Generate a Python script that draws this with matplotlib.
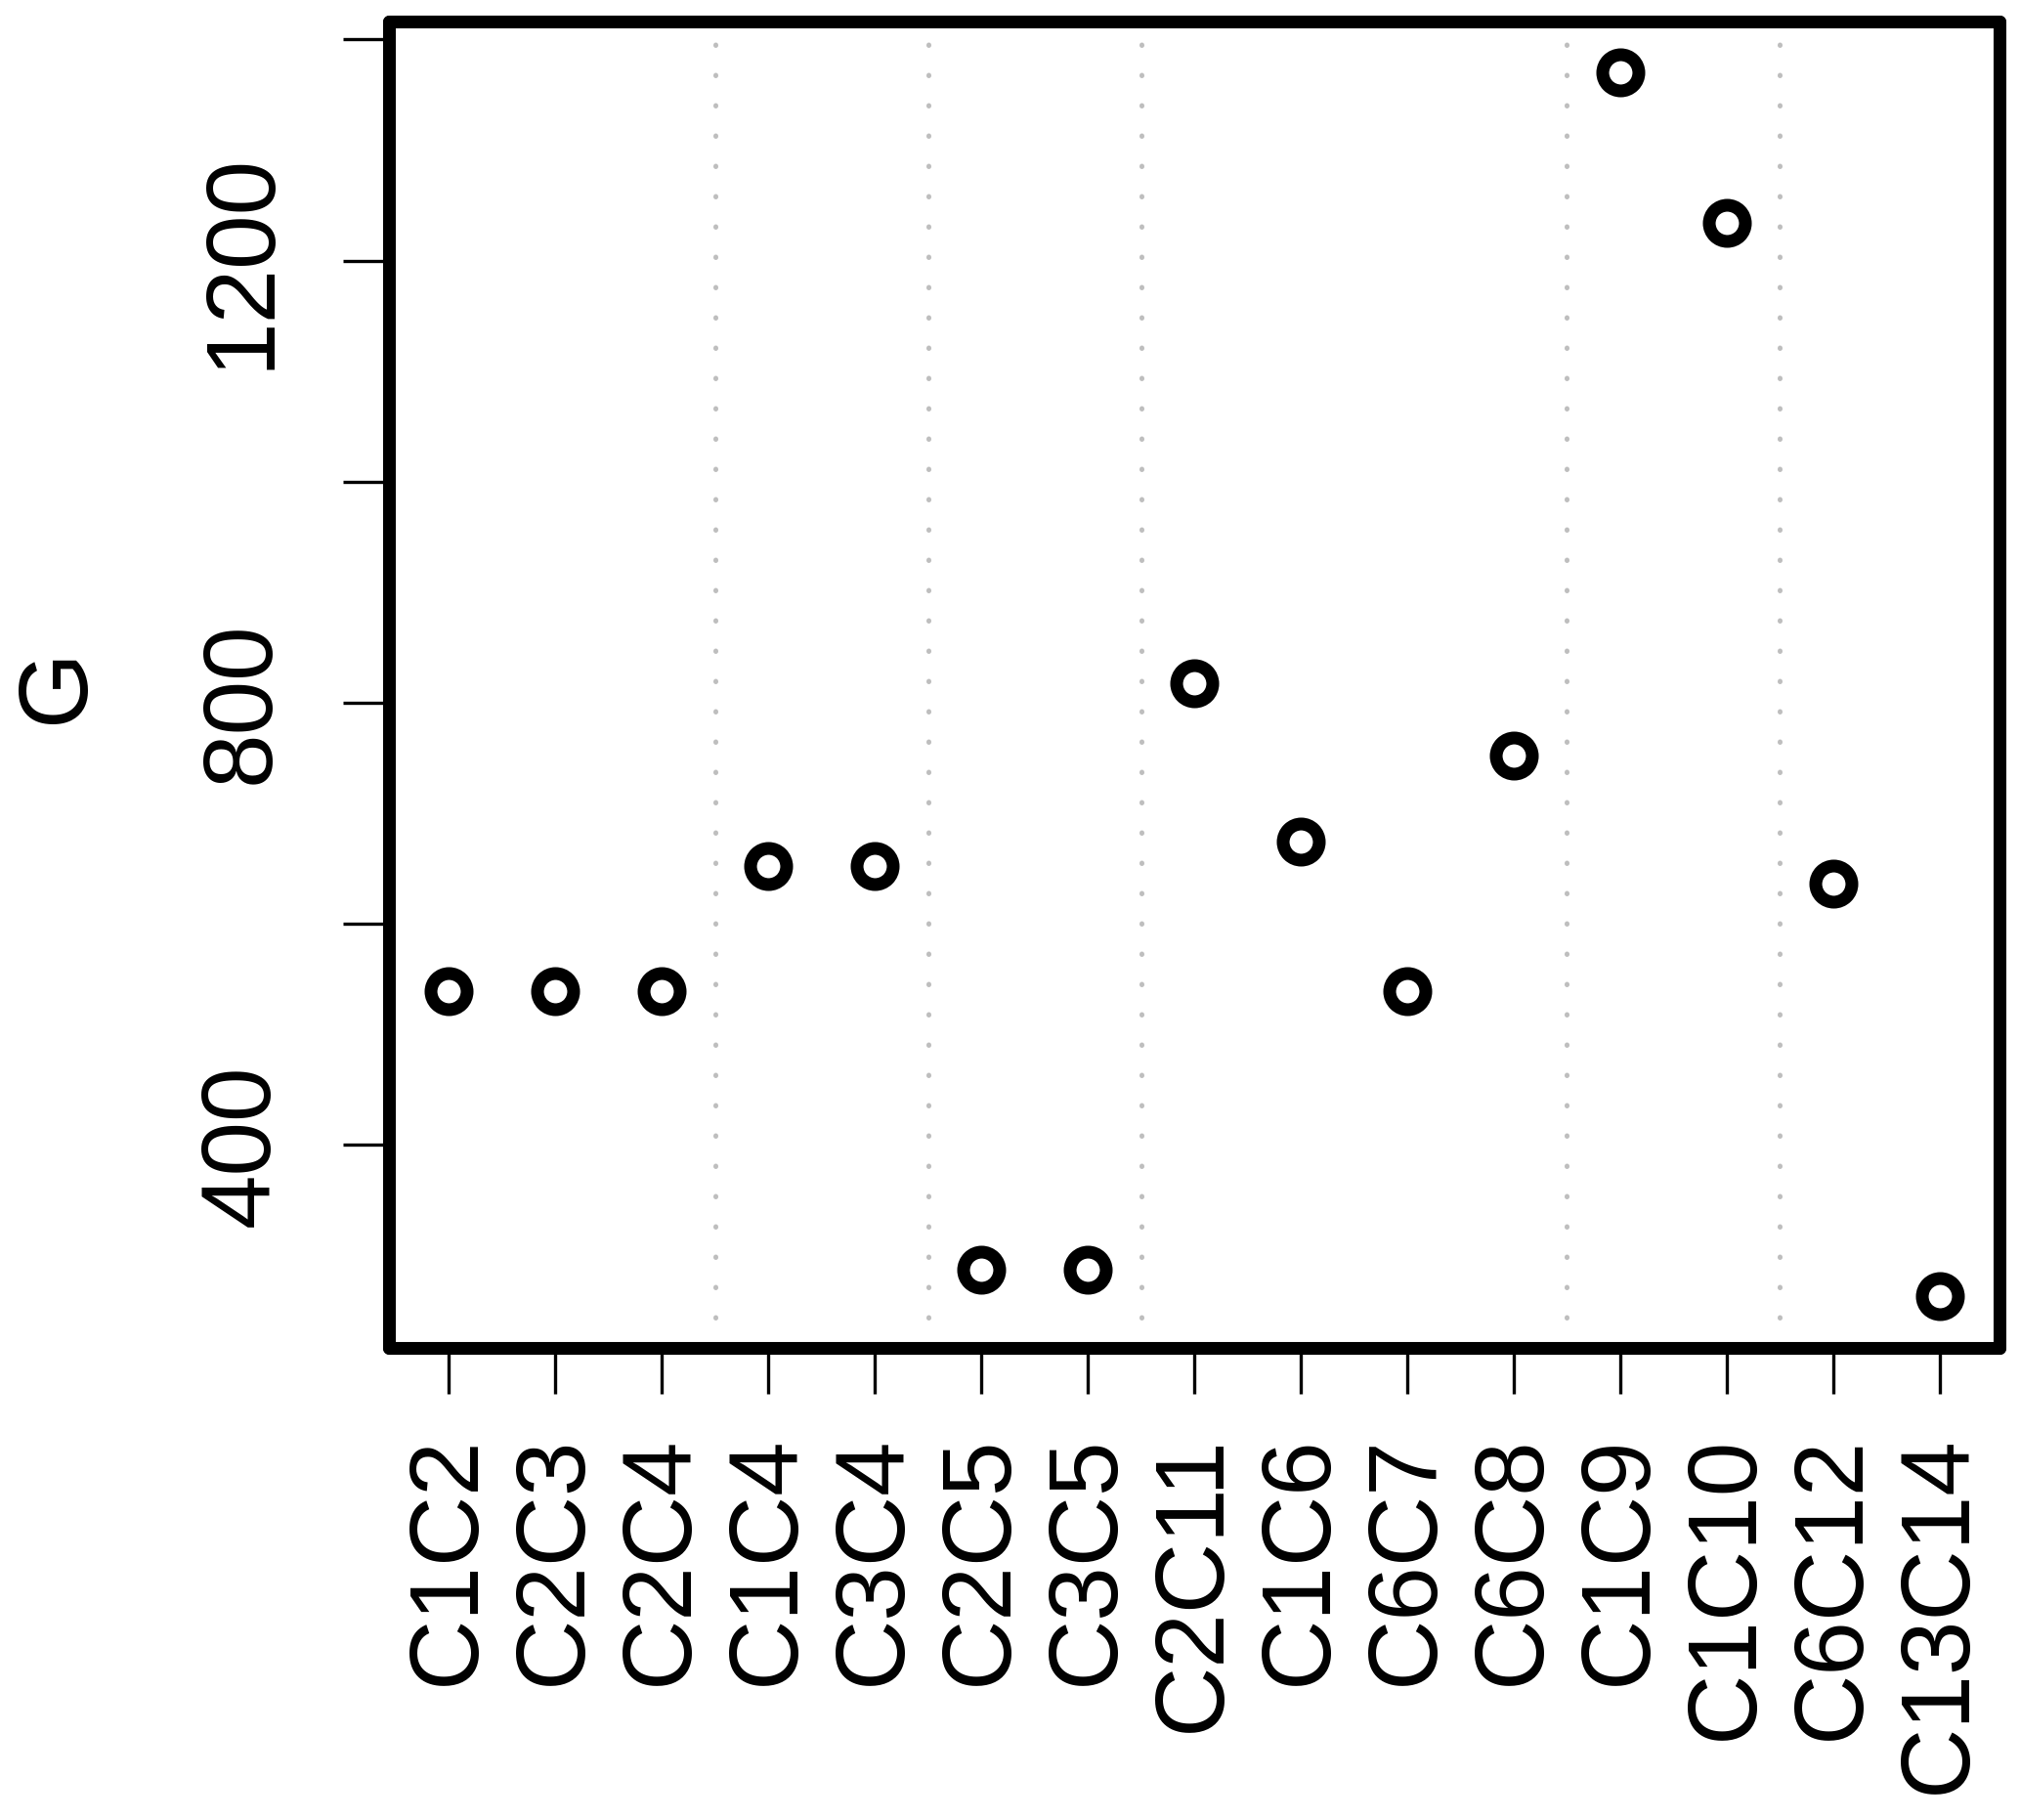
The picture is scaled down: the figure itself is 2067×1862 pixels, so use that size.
import matplotlib
matplotlib.use('Agg')
import matplotlib.pyplot as plt

plt.rcParams['font.family'] = ['Liberation Sans', 'DejaVu Sans']

# data
labels = ['C1C2', 'C2C3', 'C2C4', 'C1C4', 'C3C4', 'C2C5', 'C3C5', 'C2C11',
          'C1C6', 'C6C7', 'C6C8', 'C1C9', 'C1C10', 'C6C12', 'C13C14']
G = [539, 539, 539, 652, 652, 287, 287, 818, 674, 539, 752, 1370, 1234, 636, 263]
group_breaks = [3.5, 5.5, 7.5, 11.5, 13.5]
yticks = [400, 600, 800, 1000, 1200, 1400]
ytick_labels = ['400', '', '800', '', '1200', '']

x = list(range(1, len(labels) + 1))

fig = plt.figure(figsize=(10.335, 9.31), dpi=200)
ax = fig.add_axes([0.1926, 0.2592, 0.9898 - 0.1926, 0.988 - 0.2592])

# dotted separators between groups
for b in group_breaks:
    ax.axvline(b, color='#BEBEBE', lw=1.8, linestyle=(0, (0.1, 6.1)),
               dash_capstyle='round', zorder=1)

ax.plot(x, G, 'o', markerfacecolor='none', markeredgecolor='black',
        markersize=13.3, markeredgewidth=4.7, zorder=3)

ax.set_xlim(0.44, 15.56)
ax.set_ylim(216, 1416)

ax.set_xticks(x)
ax.set_xticklabels(labels, rotation=90, fontsize=36)
ax.set_yticks(yticks)
ax.set_yticklabels(ytick_labels, rotation=90, va='center', fontsize=36)

ax.tick_params(axis='x', length=17, width=1.2, pad=15, direction='out')
ax.tick_params(axis='y', length=17, width=1.2, pad=20, direction='out')

for s in ax.spines.values():
    s.set_linewidth(4.7)
    s.set_capstyle('round')
    s.set_zorder(4)

ax.set_ylabel('G', fontsize=36)
ax.yaxis.set_label_coords(-0.177, 0.5)

fig.savefig('out.png', dpi=200)
